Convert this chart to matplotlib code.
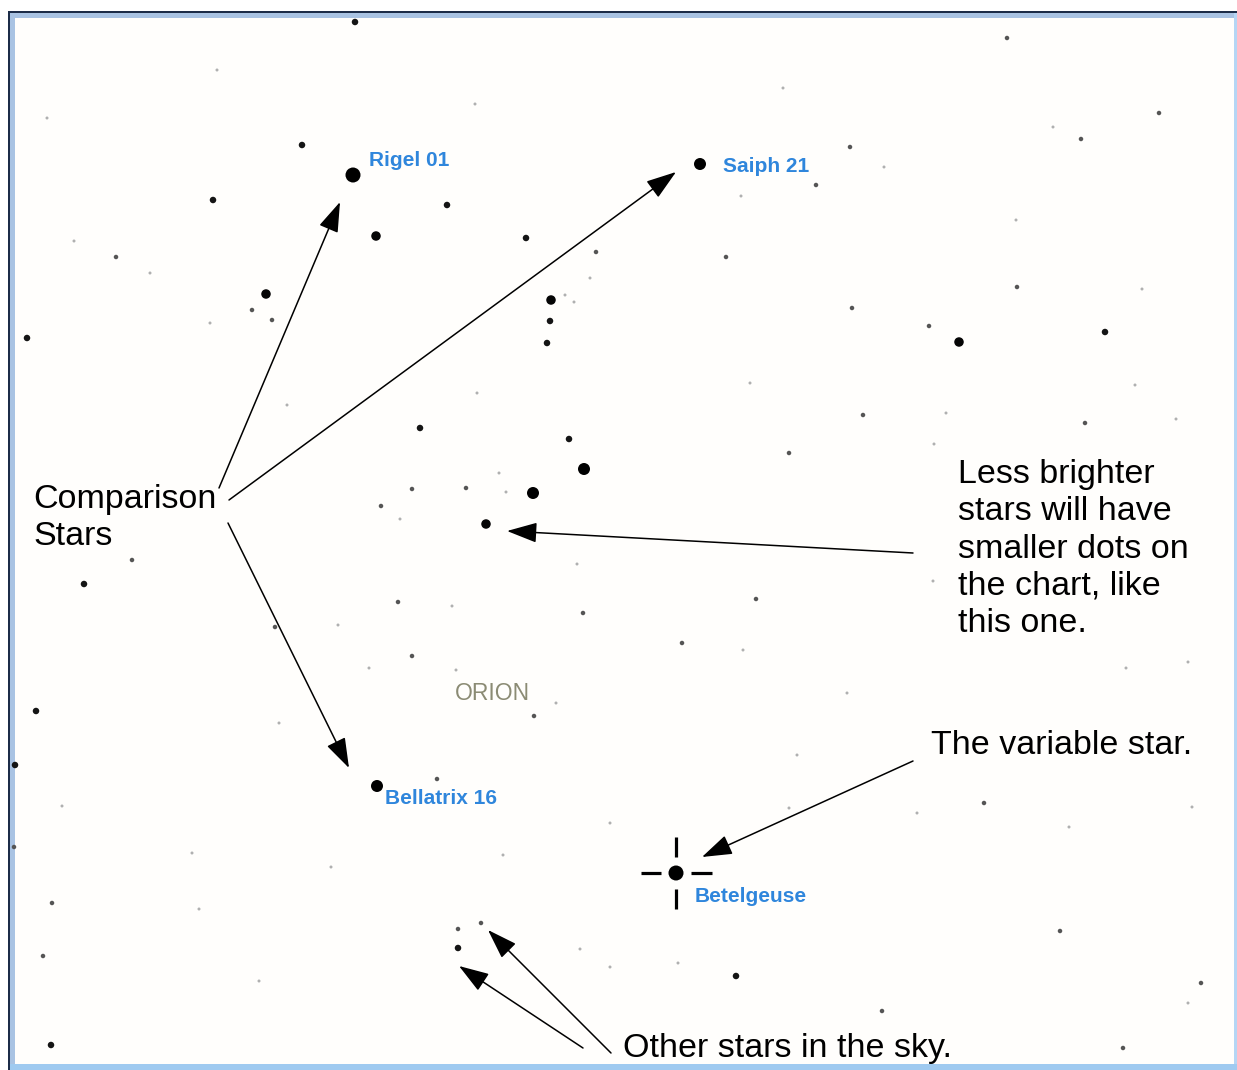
import matplotlib
matplotlib.use("Agg")
import matplotlib.pyplot as plt
from matplotlib.patches import Rectangle

# ---------------- data ----------------
star_x = [355, 217, 47, 302, 353, 213, 376, 74, 116, 150, 266, 252, 272, 210, 27,
          447, 526, 596, 590, 551, 550, 547, 565, 574, 700, 816, 741, 726, 783, 475,
          1007, 1159, 1053, 1081, 850, 884, 1016, 1017, 1142, 852, 929, 959, 1105,
          287, 420, 412, 381, 400, 132, 84, 398, 338, 275, 412, 369, 36,
          750, 477, 569, 789, 584, 499, 466, 506, 533, 486, 577, 452, 756, 583, 682,
          743, 456, 556, 534, 1135, 863, 946, 1085, 1176, 934, 933, 1126, 1188, 847,
          279, 15, 62, 14, 192, 331, 52, 199, 43, 259, 51, 377, 437, 797, 610, 503,
          789, 676, 458, 481, 458, 580, 610, 678, 736, 984, 917, 1069, 1192, 1060,
          1201, 1188, 882, 1123]
star_y = [22, 70, 118, 145, 175, 200, 236, 241, 257, 273, 294, 310, 320, 323, 338,
          205, 238, 252, 278, 300, 321, 343, 295, 302, 164, 185, 196, 257, 88, 104,
          38, 113, 127, 139, 147, 167, 220, 287, 289, 308, 326, 342, 332,
          405, 428, 489, 506, 519, 560, 584, 602, 625, 627, 656, 668, 711,
          383, 393, 439, 453, 469, 473, 488, 492, 493, 524, 564, 606, 599, 613, 643,
          650, 670, 703, 716, 385, 415, 413, 423, 419, 444, 581, 668, 662, 693,
          723, 765, 806, 847, 853, 867, 903, 909, 956, 981, 1045, 786, 779, 755, 823, 855,
          808, 873, 929, 923, 948, 949, 967, 963, 976, 803, 813, 827, 807, 931,
          983, 1003, 1011, 1048]
star_mag = [4, 6, 6, 4, 1, 4, 3, 6, 5, 6, 3, 5, 5, 6, 4,
            4, 4, 5, 6, 3, 4, 4, 6, 6, 2, 5, 6, 5, 6, 6,
            5, 5, 6, 5, 5, 6, 6, 5, 6, 5, 5, 3, 4,
            6, 4, 5, 5, 6, 5, 4, 5, 6, 5, 5, 6, 4,
            6, 6, 4, 5, 2, 6, 5, 6, 2, 3, 6, 6, 5, 5, 5,
            6, 6, 6, 5, 6, 5, 6, 5, 6, 6, 6, 6, 6, 6,
            6, 4, 6, 5, 6, 6, 5, 6, 5, 6, 4, 2, 5, 6, 6, 6,
            6, 1, 5, 5, 4, 6, 6, 6, 4, 5, 6, 6, 6, 5,
            5, 6, 5, 5]

named_stars = ["Rigel 01", "Saiph 21", "Bellatrix 16", "Betelgeuse"]
named_x = [353, 700, 377, 676]
named_y = [175, 164, 786, 873]

constellation = "ORION"
text_comparison = "Comparison\nStars"
text_less = "Less brighter\nstars will have\nsmaller dots on\nthe chart, like\nthis one."
text_variable = "The variable star."
text_other = "Other stars in the sky."

# ---------------- figure ----------------
W, H = 1237, 1070
fig = plt.figure(figsize=(W / 100, H / 100), dpi=100)
ax = fig.add_axes([0, 0, 1, 1])
ax.set_xlim(0, W)
ax.set_ylim(H, 0)
ax.axis("off")

# window frame
ax.add_patch(Rectangle((9, 12), W - 9, H - 12, facecolor="#fffefc", edgecolor="none", zorder=0))
ax.add_patch(Rectangle((7.5, 10.5), W, 2.0, facecolor="#1c2c48", edgecolor="none", zorder=1))
ax.add_patch(Rectangle((7.5, 10.5), 2.0, H, facecolor="#1c2c48", edgecolor="none", zorder=1))
ax.add_patch(Rectangle((9.5, 12.5), W, 5, facecolor="#a9c3e3", edgecolor="none", zorder=1))
ax.add_patch(Rectangle((9.5, 12.5), 5, H, facecolor="#a9c3e3", edgecolor="none", zorder=1))
ax.add_patch(Rectangle((1233.5, 12.5), 4, H, facecolor="#b5d6f5", edgecolor="none", zorder=1))
ax.add_patch(Rectangle((9.5, 1064), W, 7, facecolor="#9fcaf0", edgecolor="none", zorder=1))

# stars
diam_px = {1: 15, 2: 12, 3: 9.5, 4: 6.5, 5: 4.5, 6: 3}
shade = {1: "#000000", 2: "#000000", 3: "#050505", 4: "#151515", 5: "#555555", 6: "#b0b0b0"}
sizes = [(diam_px[m] * 0.72) ** 2 for m in star_mag]
colors = [shade[m] for m in star_mag]
ax.scatter(star_x, star_y, s=sizes, c=colors, edgecolors="none", zorder=3)

# variable star crosshair (Betelgeuse)
bx, by = named_x[3], named_y[3]
for (dx0, dy0, dx1, dy1) in [(-35, 0, -15, 0), (15, 0, 36, 0), (0, -36, 0, -16), (0, 16, 0, 36)]:
    ax.plot([bx + dx0, bx + dx1], [by + dy0, by + dy1], color="black", lw=2.3,
            solid_capstyle="butt", zorder=3)

# star labels
blue = "#2f86dc"
lab_font = dict(family="Liberation Sans", weight="bold", fontsize=15, color=blue, zorder=4)
ax.text(named_x[0] + 16, named_y[0] - 14, named_stars[0], ha="left", va="center", **lab_font)
ax.text(named_x[1] + 23, named_y[1] + 2, named_stars[1], ha="left", va="center", **lab_font)
ax.text(named_x[2] + 8, named_y[2] + 13, named_stars[2], ha="left", va="center", **lab_font)
ax.text(named_x[3] + 19, named_y[3] + 24, named_stars[3], ha="left", va="center", **lab_font)

ax.text(455, 693, constellation, ha="left", va="center", family="Liberation Sans",
        fontsize=16.5, color="#8b8b74", zorder=4)

# annotation texts
txt_font = dict(family="Liberation Sans", fontsize=24.5, color="black", zorder=5)
ax.text(33, 518, text_comparison, ha="left", va="center", linespacing=1.22, **txt_font)
ax.text(958, 549, text_less, ha="left", va="center", linespacing=1.26, **txt_font)
ax.text(931, 745, text_variable, ha="left", va="center", **txt_font)
ax.text(623, 1049, text_other, ha="left", va="center", **txt_font)

# arrows
arrow_style = "-|>,head_length=1.25,head_width=0.42"
arrows = [((219, 488), (340, 202)),
          ((229, 500), (676, 172)),
          ((228, 523), (349, 768)),
          ((913, 553), (507, 531)),
          ((913, 761), (702, 857)),
          ((583, 1048), (459, 966)),
          ((611, 1053), (488, 930))]
for (x0, y0), (x1, y1) in arrows:
    ax.annotate("", xy=(x1, y1), xytext=(x0, y0), xycoords="data", textcoords="data",
                arrowprops=dict(arrowstyle=arrow_style, mutation_scale=15, color="black",
                                lw=1.1, shrinkA=0, shrinkB=0), zorder=6)

fig.savefig("out.png", dpi=100)
